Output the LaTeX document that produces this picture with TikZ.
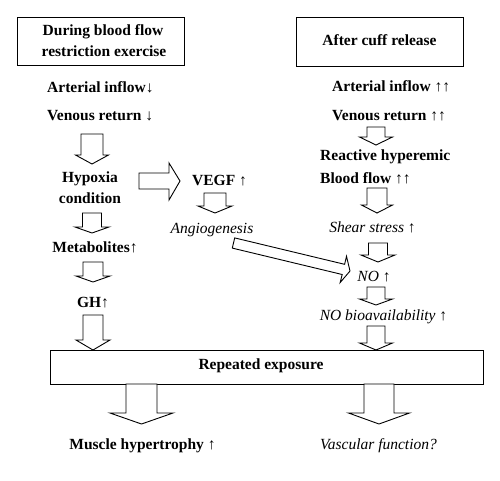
\documentclass[tikz,border=0pt]{standalone}
\usepackage{fontspec}
\setmainfont{Liberation Serif}
\begin{document}
\begin{tikzpicture}[x=1pt,y=-1pt,
  bt/.style={font=\fontsize{15.5}{21.5}\selectfont\bfseries, inner sep=0pt},
  it/.style={font=\fontsize{15.5}{21.5}\selectfont\itshape, inner sep=0pt},
  frame/.style={draw, line width=0.9pt, inner sep=0pt},
  blk/.style={draw, line width=0.9pt, fill=white, line join=miter}]
\useasboundingbox (0,0) rectangle (500,480);
\newcommand\dnblock[6]{\draw[blk] ({#1-#2},#4) -- ({#1+#2},#4) -- ({#1+#2},#5) -- ({#1+#3},#5) -- (#1,#6) -- ({#1-#3},#5) -- ({#1-#2},#5) -- cycle;}
% boxes
\node[frame, minimum width=167pt, minimum height=48pt] (lbox) at (100.5,41) {};
\node[bt, anchor=base] (l1) at (103,35) {During blood flow};
\node[bt, anchor=base] (l2) at (104,56) {restriction exercise};
\node[frame, minimum width=167pt, minimum height=49pt] (rbox) at (379.5,41.5) {};
\node[bt, anchor=base] (r0) at (379.5,45) {After cuff release};
\node[frame, minimum width=433pt, minimum height=34pt] (rep) at (266.5,367) {};
\node[bt, anchor=base] (repT) at (261,369) {Repeated exposure};
% left column
\node[bt, anchor=base west] (ai) at (47,92) {Arterial inflow↓};
\node[bt, anchor=base west] (vr) at (47,120) {Venous return ↓};
\node[bt, anchor=base] (hy) at (90,182) {Hypoxia};
\node[bt, anchor=base] (co) at (90,203) {condition};
\node[bt, anchor=base] (me) at (95,252) {Metabolites↑};
\node[bt, anchor=base] (gh) at (93,307) {GH↑};
% middle
\node[bt, anchor=base west] (ve) at (192,185) {VEGF ↑};
\node[it, anchor=base] (an) at (212,233) {Angiogenesis};
% right column
\node[bt, anchor=base west] (rai) at (332,91) {Arterial inflow ↑↑};
\node[bt, anchor=base west] (rvr) at (332,120) {Venous return ↑↑};
\node[bt, anchor=base west] (rh) at (320,160) {Reactive hyperemic};
\node[bt, anchor=base west] (bf) at (320,183) {Blood flow ↑↑};
\node[it, anchor=base] (ss) at (372.5,232) {Shear stress ↑};
\node[it, anchor=base] (no) at (374,281) {NO ↑};
\node[it, anchor=base] (nob) at (383.5,320) {NO bioavailability ↑};
% bottom
\node[bt, anchor=base] (mh) at (142.5,449) {Muscle hypertrophy ↑};
\node[it, anchor=base] (vf) at (378.5,449) {Vascular function?};
% block arrows, left column
\dnblock{92}{11}{16.5}{134}{155}{164}
\dnblock{92}{9.5}{17}{213}{227}{233}
\dnblock{93}{10}{17}{262}{276}{282}
\dnblock{93}{10}{17}{315}{340}{350}
% hypoxia -> VEGF
\draw[blk] (139,173) -- (169,173) -- (169,163) -- (180,181) -- (169,200) -- (169,189) -- (139,189) -- cycle;
\dnblock{215}{11}{17}{193}{206}{213}
% angiogenesis -> NO
\draw[blk] (234.7,237.9) -- (344.6,264.3) -- (346.5,256.3) -- (350,271) -- (340.2,282.5) -- (342.2,274.5) -- (232.3,248.1) -- cycle;
% right column
\dnblock{376}{9}{16.5}{127}{137}{145}
\dnblock{377}{10}{15.5}{188}{205}{213}
\dnblock{378}{9.5}{17}{243}{255}{262}
\dnblock{376}{9}{16.5}{287}{299}{305}
\dnblock{376}{9}{16.5}{326}{343}{350}
% bottom arrows
\dnblock{141.5}{15.5}{31.5}{384}{413}{424}
\dnblock{379}{15}{30.5}{384}{413}{424}
\end{tikzpicture}
\end{document}
